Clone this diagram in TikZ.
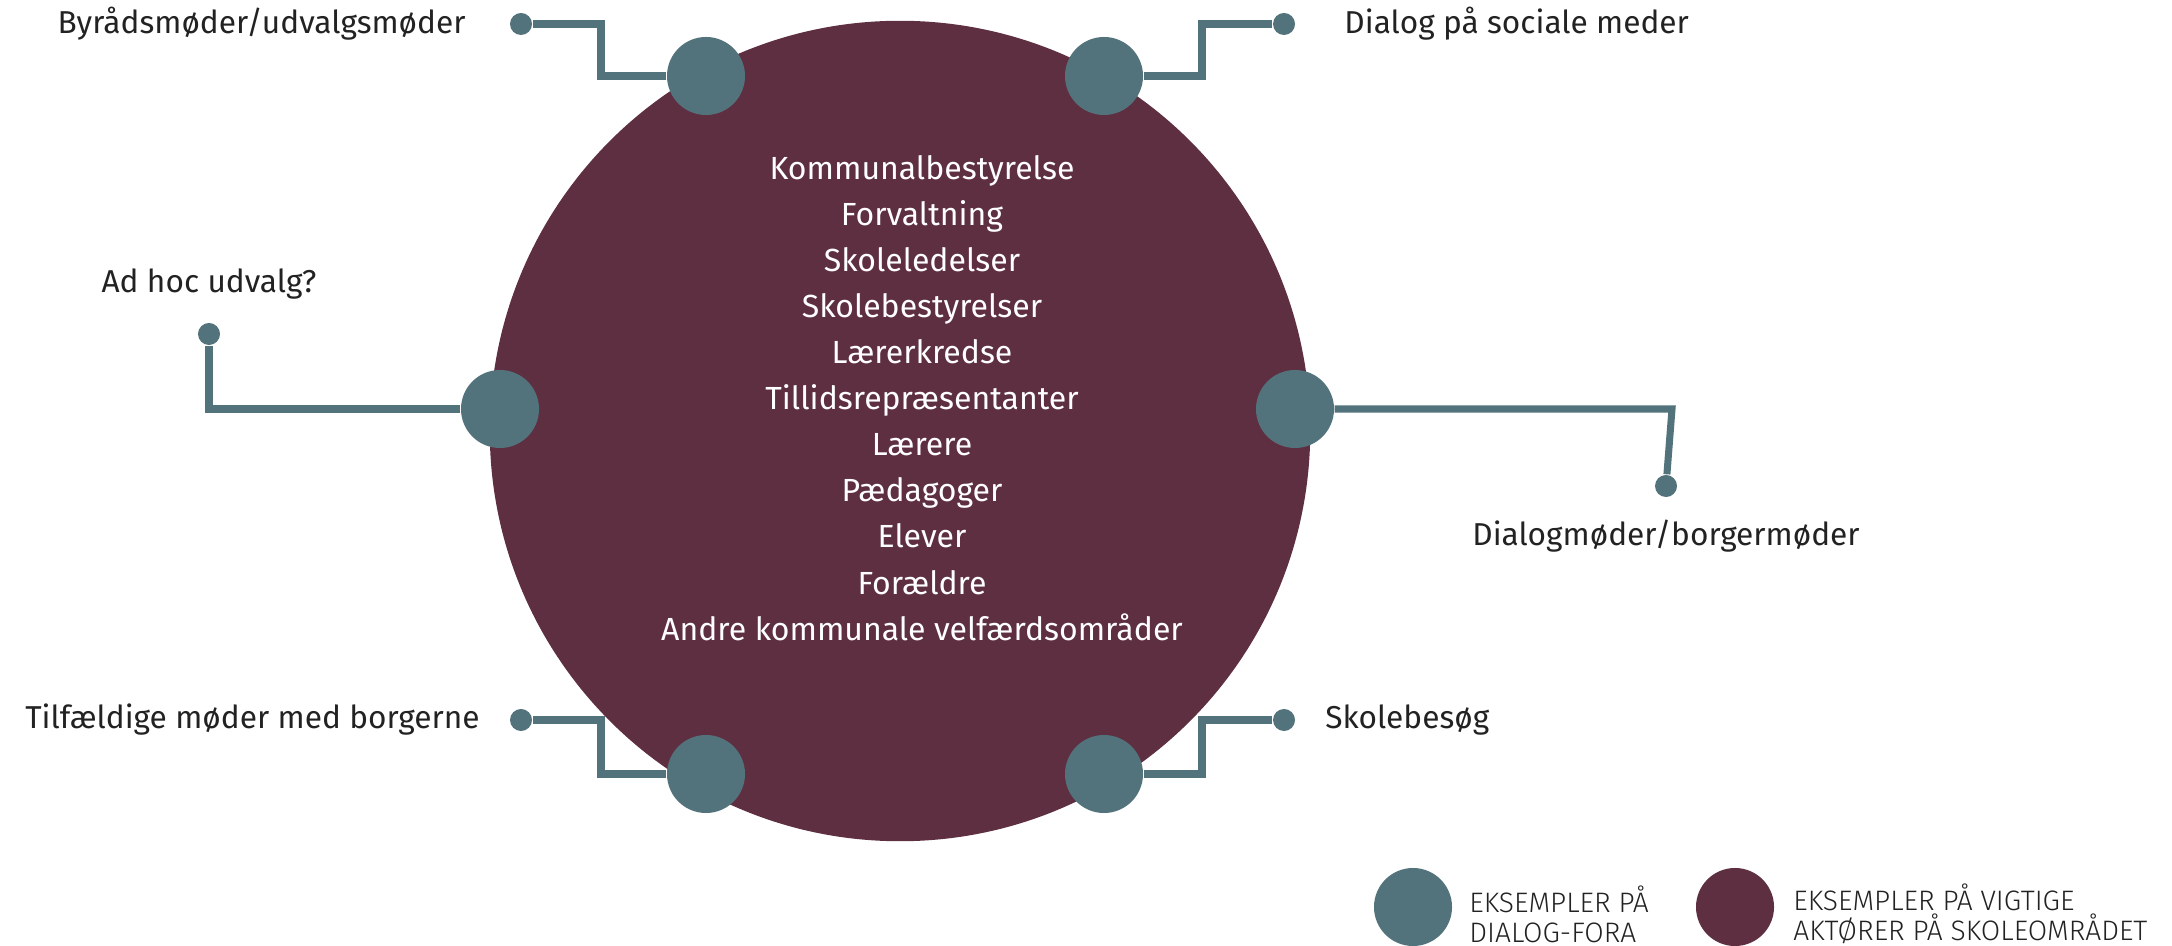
\documentclass[tikz,border=0pt]{standalone}
\usepackage{fontspec}
\setmainfont{Fira Sans}
\newfontfamily\keyfont{Fira Sans Light}
\usetikzlibrary{positioning}
\definecolor{forumteal}{HTML}{52737B}
\definecolor{actorwine}{HTML}{5E2E41}
\definecolor{labelgray}{HTML}{222222}

\begin{document}
\begin{tikzpicture}[x=0.01cm,y=-0.01cm]

    \tikzset{
        actors/.style={circle,fill=actorwine,minimum size=8.2cm,inner sep=0},
        forum/.style={circle,fill=forumteal,minimum size=0.78cm,inner sep=0},
        pin/.style={circle,fill=forumteal,minimum size=0.22cm,inner sep=0},
        link/.style={draw=forumteal,line width=2pt},
        lbl/.style={inner sep=0,text=labelgray,font=\fontsize{9}{11}\selectfont},
        actortext/.style={inner sep=0,anchor=base,text=white,font=\fontsize{9.1}{11}\selectfont},
        keytext/.style={inner sep=0,align=left,text=labelgray,font=\keyfont\fontsize{8}{8.6}\selectfont},
    }

    \useasboundingbox (0,0) rectangle (2172,946);

    % Draw actors
    \node[actors] (actors) at (900,431) {};
    \foreach \name [count=\i] in {Kommunalbestyrelse, Forvaltning, Skoleledelser,
        Skolebestyrelser, Lærerkredse, Tillidsrepræsentanter, Lærere, Pædagoger,
        Elever, Forældre, Andre kommunale velfærdsområder} {
        \node[actortext] (a-\i) at (922, {180 + 46*(\i-1)}) {\name};
    }

    % Draw forums and pins
    \foreach \i/\x/\y in {1/706/76, 2/1104/76, 3/500/409, 4/1295/409, 5/706/774, 6/1104/774}
        \node[forum] (f-\i) at (\x,\y) {};
    \foreach \i/\x/\y in {1/521/24, 2/1284/24, 3/209/334, 4/1666/486, 5/521/720, 6/1284/720}
        \node[pin] (d-\i) at (\x,\y) {};

    % Draw links
    \coordinate (k-1) at (601,24);
    \coordinate (k-2) at (1202,24);
    \coordinate (k-4) at (1672,409);
    \coordinate (k-5) at (601,720);
    \coordinate (k-6) at (1202,720);
    \draw[link] (f-1.west) -| (k-1) -- (d-1);
    \draw[link] (f-2.east) -| (k-2) -- (d-2);
    \draw[link] (f-3.west) -| (d-3);
    \draw[link] (f-4.east) -- (k-4) -- (d-4);
    \draw[link] (f-5.west) -| (k-5) -- (d-5);
    \draw[link] (f-6.east) -| (k-6) -- (d-6);

    % Labels
    \node[lbl, left=0.43cm of d-1] (l-1) {Byrådsmøder/udvalgsmøder};
    \node[lbl, right=0.48cm of d-2] (l-2) {Dialog på sociale meder};
    \node[lbl, above=0.22cm of d-3] (l-3) {Ad hoc udvalg?};
    \node[lbl, below=0.22cm of d-4] (l-4) {Dialogmøder/borgermøder};
    \node[lbl, left=0.29cm of d-5] (l-5) {Tilfældige møder med borgerne};
    \node[lbl, right=0.29cm of d-6] (l-6) {Skolebesøg};

    % Legend
    \node[forum] (key-forum) at (1413,907) {};
    \node[forum, fill=actorwine] (key-actors) at (1735,907) {};
    \node[keytext, right=0.16cm of key-forum, yshift=-0.07cm] (key-forum-text)
        {EKSEMPLER PÅ\\DIALOG-FORA};
    \node[keytext, right=0.18cm of key-actors, yshift=-0.07cm] (key-actors-text)
        {EKSEMPLER PÅ VIGTIGE\\AKTØRER PÅ SKOLEOMRÅDET};

\end{tikzpicture}
\end{document}
